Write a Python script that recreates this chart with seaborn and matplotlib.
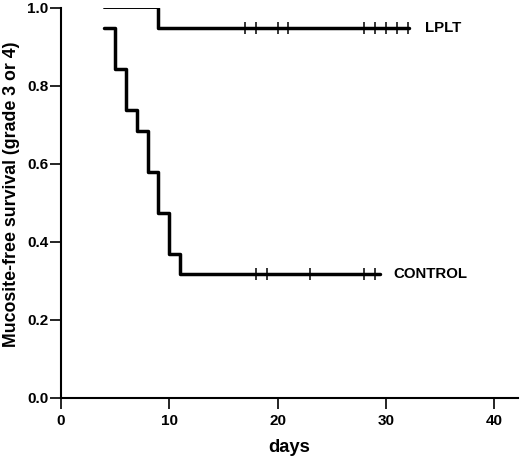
import numpy as np
import pandas as pd
import seaborn as sns
import matplotlib.pyplot as plt

# Kaplan-Meier steps (days, survival)
lplt_days = [4, 9, 9, 32.1]
lplt_surv = [1.0, 1.0, 0.947, 0.947]
lplt_censored = [17, 18, 20, 21, 28, 29, 30, 31, 32]

control_days = [4, 5, 6, 7, 8, 9, 10, 11, 29.5]
control_surv = [0.947, 0.842, 0.737, 0.684, 0.579, 0.474, 0.368, 0.316, 0.316]
control_censored = [18, 19, 23, 28, 29]

x_ticks = [0, 10, 20, 30, 40]
y_ticks = [0.0, 0.2, 0.4, 0.6, 0.8, 1.0]


def surv_at(days, surv, t):
    # step function lookup (post)
    idx = np.searchsorted(days, t, side="right") - 1
    return np.array(surv)[idx]


sns.set_style("ticks")
plt.rcParams["font.family"] = ["Liberation Sans", "DejaVu Sans"]
plt.rcParams["font.weight"] = "bold"
for key in ["text.color", "axes.labelcolor", "xtick.color", "ytick.color",
            "axes.edgecolor"]:
    plt.rcParams[key] = "black"

fig = plt.figure(figsize=(5.2, 4.59), dpi=100)
ax = fig.add_axes([61 / 520, 1 - 397.5 / 459, 457 / 520, 390 / 459])

# LPLT: thin plateau at 1.0, then thick
sns.lineplot(x=lplt_days[:2], y=lplt_surv[:2], sort=False, estimator=None,
             color="black", linewidth=1.4, ax=ax)
sns.lineplot(x=lplt_days[1:], y=lplt_surv[1:], sort=False, estimator=None,
             drawstyle="steps-post", color="black", linewidth=2.5, ax=ax)
sns.lineplot(x=control_days, y=control_surv, sort=False, estimator=None,
             drawstyle="steps-post", color="black", linewidth=2.5, ax=ax)

# censor marks
cens = pd.DataFrame({
    "day": lplt_censored + control_censored,
    "surv": list(surv_at(lplt_days[1:], lplt_surv[1:], lplt_censored))
            + list(surv_at(control_days, control_surv, control_censored)),
})
ax.plot(cens["day"], cens["surv"], linestyle="none", marker="|",
        markersize=8, markeredgewidth=1.1, color="black")

ax.text(33.6, lplt_surv[-1], "LPLT", fontsize=10.8, fontweight="bold",
        va="center", ha="left")
ax.text(30.7, control_surv[-1], "CONTROL", fontsize=10.8, fontweight="bold",
        va="center", ha="left")

ax.set_xlim(0, 42.2)
ax.set_ylim(0, 1.0)
ax.set_xticks(x_ticks)
ax.set_yticks(y_ticks)
ax.set_yticklabels([f"{v:.1f}" for v in y_ticks])
ax.tick_params(axis="y", direction="out", length=8, width=1.2,
               labelsize=11, pad=1)
ax.tick_params(axis="x", direction="out", length=8, width=1.2,
               labelsize=11, pad=4)
for lab in ax.get_xticklabels() + ax.get_yticklabels():
    lab.set_fontweight("bold")

for side in ["left", "bottom"]:
    ax.spines[side].set_linewidth(1.5)
sns.despine(ax=ax)

ax.set_xlabel("days", fontsize=13.2, fontweight="bold", labelpad=8)
ax.set_ylabel("Mucosite-free survival (grade 3 or 4)", fontsize=12.8,
              fontweight="bold")
ax.yaxis.set_label_coords(-0.09, (397.5 - 194) / 390)

fig.savefig("out.png", dpi=100)
